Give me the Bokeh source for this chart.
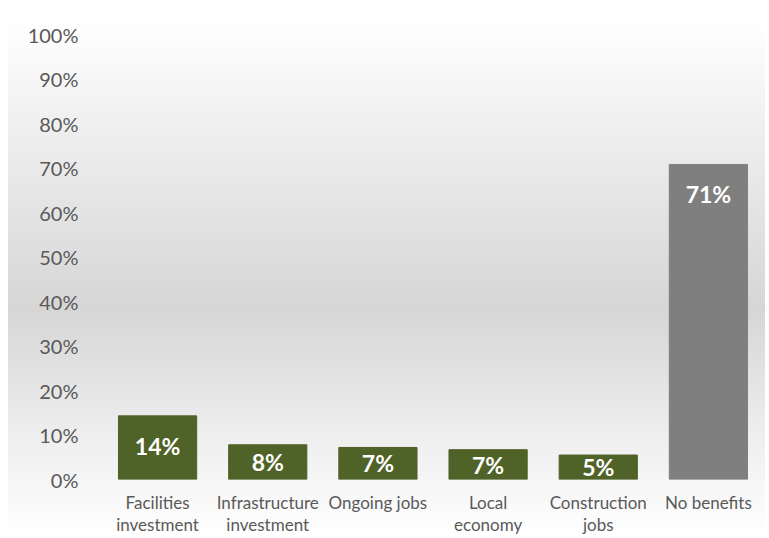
from bokeh.plotting import figure
from bokeh.models import ColumnDataSource, FixedTicker, CategoricalAxis, CustomJSTickFormatter
from bokeh.core.properties import value
from bokeh.embed import file_html
from bokeh.resources import INLINE

categories = ["Facilities investment", "Infrastructure investment", "Ongoing jobs",
              "Local economy", "Construction jobs", "No benefits"]
label_line1 = ["Facilities", "Infrastructure", "Ongoing jobs", "Local", "Construction", "No benefits"]
label_line2 = ["investment", "investment", "", "economy", "jobs", ""]
values = [14.3, 7.8, 7.2, 6.7, 5.5, 70.8]
shown = ["14%", "8%", "7%", "7%", "5%", "71%"]
colors = ["#4F6228", "#4F6228", "#4F6228", "#4F6228", "#4F6228", "#7F7F7F"]
y_ticks = [0, 10, 20, 30, 40, 50, 60, 70, 80, 90, 100]

# label position: inside end (about 30px below top), but centered for short bars
label_y = [max(v - 6.7, v / 2) for v in values]

src = ColumnDataSource(dict(cat=categories, val=values, lab=shown, col=colors, ly=label_y))

FONT = "Lato"
GREY = "#595959"

p = figure(x_range=categories, y_range=(0, 100), width=765, height=537,
           output_backend="svg", toolbar_location=None,
           min_border_left=102, min_border_right=2, min_border_top=34, min_border_bottom=50,
           background_fill_color=None, border_fill_color=None, outline_line_color=None,
           styles={
               "background-image": "linear-gradient(to bottom, #ffffff 0%, #ececec 25%, #d6d6d6 56%, #ececec 78%, #f8f8f8 92%, #ffffff 100%)",
               "background-size": "calc(100% - 8px) calc(100% - 20px)",
               "background-position": "right bottom",
               "background-repeat": "no-repeat",
           })

p.vbar(x="cat", top="val", width=0.71, color="col", source=src)
p.text(x="cat", y="ly", text="lab", source=src, text_color="white",
       text_font=value(FONT), text_font_style="bold", text_font_size="23px",
       text_align="center", text_baseline="middle")

p.xgrid.grid_line_color = None
p.ygrid.grid_line_color = None

p.yaxis.ticker = FixedTicker(ticks=y_ticks)
p.yaxis.major_label_overrides = {t: f"{t}%" for t in y_ticks}
p.yaxis.axis_line_color = None
p.yaxis.major_tick_line_color = None
p.yaxis.minor_tick_line_color = None
p.yaxis.major_tick_out = 0
p.yaxis.major_tick_in = 0
p.yaxis.major_label_standoff = 24
p.yaxis.major_label_text_font = FONT
p.yaxis.major_label_text_font_size = "20px"
p.yaxis.major_label_text_color = GREY

code = "const i = cats.indexOf(tick); return i >= 0 ? lines[i] : '';"
ax1 = p.xaxis[0]
ax1.formatter = CustomJSTickFormatter(args=dict(cats=categories, lines=label_line1), code=code)
ax2 = CategoricalAxis(formatter=CustomJSTickFormatter(args=dict(cats=categories, lines=label_line2), code=code))
p.add_layout(ax2, "below")

for ax in (ax1, ax2):
    ax.axis_line_color = None
    ax.major_tick_line_color = None
    ax.minor_tick_line_color = None
    ax.major_tick_out = 0
    ax.major_tick_in = 0
    ax.major_label_text_font = FONT
    ax.major_label_text_font_size = "17px"
    ax.major_label_text_color = GREY
    ax.major_label_text_line_height = 1.0
ax1.major_label_standoff = 12
ax2.major_label_standoff = -2

open("out.html", "w").write(file_html(p, INLINE))
